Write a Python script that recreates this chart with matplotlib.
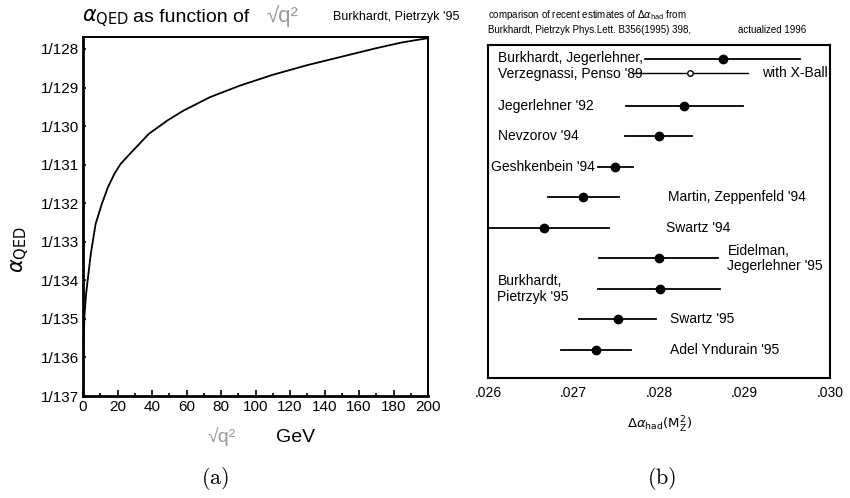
import numpy as np
import matplotlib
matplotlib.use("Agg")
import matplotlib.pyplot as plt

plt.rcParams['font.family'] = ['Liberation Sans', 'DejaVu Sans']

# (a) running coupling
q_gev = [0.0, 0.3, 0.9, 1.8, 2.7, 4.5, 7.3, 10.9, 14.5, 18.2, 21.8, 29.1, 38.2,
         49.1, 58.2, 73.6, 91, 110, 130, 150, 170, 185, 200]
inv_alpha = [137.0, 135.7, 134.88, 134.35, 134.0, 133.32, 132.54, 132.02,
             131.58, 131.24, 130.98, 130.63, 130.2, 129.85, 129.6, 129.25,
             128.95, 128.67, 128.42, 128.2, 127.98, 127.83, 127.72]
inv_alpha_ticks = [128, 129, 130, 131, 132, 133, 134, 135, 136, 137]

# (b) estimates of delta alpha_had(MZ^2)
labels = ["Burkhardt, Jegerlehner,\nVerzegnassi, Penso '89", "with X-Ball",
          "Jegerlehner '92", "Nevzorov '94", "Geshkenbein '94",
          "Martin, Zeppenfeld '94", "Swartz '94", "Eidelman,\nJegerlehner '95",
          "Burkhardt,\nPietrzyk '95", "Swartz '95", "Adel Yndurain '95"]
values = [0.02875, 0.02836, 0.02829, 0.02800, 0.02749, 0.02711, 0.02666,
          0.02800, 0.02801, 0.02752, 0.02726]
err_lo = [0.00091, 0.00068, 0.00068, 0.00040, 0.00020, 0.00041, 0.00075,
          0.00070, 0.00072, 0.00046, 0.00041]
err_hi = [0.00090, 0.00068, 0.00069, 0.00039, 0.00021, 0.00042, 0.00075,
          0.00069, 0.00070, 0.00045, 0.00041]
open_marker = [False, True, False, False, False, False, False, False, False,
               False, False]
xticks_b = [0.026, 0.027, 0.028, 0.029, 0.030]

W, H = 850, 498
fig = plt.figure(figsize=(W / 100, H / 100), dpi=100)


def fx(px):
    return px / W


def fy(py):
    return 1 - py / H


# ---- panel (a)
ax1 = fig.add_axes([fx(83), fy(396), fx(428) - fx(83), fy(37) - fy(396)])
ax1.plot(q_gev, inv_alpha, color='black', lw=1.3)
ax1.set_xlim(0, 200)
ax1.set_ylim(137, 127.69)
ax1.set_yticks(inv_alpha_ticks)
ax1.set_yticklabels([f"1/{v}" for v in inv_alpha_ticks], fontsize=11)
ax1.set_xticks(np.arange(0, 201, 20))
ax1.set_xticks(np.arange(10, 200, 20), minor=True)
ax1.tick_params(axis='x', which='major', direction='in', length=4, width=1.2,
                labelsize=11, pad=3)
ax1.tick_params(axis='x', which='minor', direction='in', length=2, width=1.2)
ax1.tick_params(axis='y', direction='in', length=2.5, width=1.2, pad=3)
for side in ['left', 'bottom']:
    ax1.spines[side].set_linewidth(2)
for side in ['top', 'right']:
    ax1.spines[side].set_linewidth(1.4)

fig.text(fx(82), fy(18), r"$\alpha_{\rm QED}$", fontsize=15, va='center')
fig.text(fx(133), fy(17), "as function of", fontsize=14, va='center')
fig.text(fx(266), fy(16), "√q²", fontsize=16, va='center', color='#9a9a9a')
fig.text(fx(333), fy(17), "Burkhardt, Pietrzyk '95", fontsize=9, va='center')
fig.text(fx(20), fy(250), r"$\alpha_{\rm QED}$", fontsize=15, rotation=90,
         ha='center', va='center')
fig.text(fx(222), fy(437), "√q²", fontsize=14, ha='center', va='center',
         color='#9a9a9a')
fig.text(fx(296), fy(437), "GeV", fontsize=14, ha='center', va='center')
fig.text(fx(215), fy(478), r"$(\mathrm{a})$", fontsize=16, ha='center',
         va='center', math_fontfamily='cm')

# ---- panel (b)
ax2 = fig.add_axes([fx(488), fy(378), fx(830) - fx(488), fy(45) - fy(378)])
rows = np.arange(len(values), dtype=float)
rows[1] = 0.46
rows[2:] -= 0.46
label_x = [0.02612, 0.02921, 0.02612, 0.02612, 0.02604, 0.02811, 0.02808,
           0.02880, 0.02611, 0.02813, 0.02813]

for i in range(len(values)):
    ax2.plot([values[i] - err_lo[i], values[i] + err_hi[i]], [rows[i], rows[i]],
             color='black', lw=1.3 if not open_marker[i] else 1.0)
    if open_marker[i]:
        ax2.plot(values[i], rows[i], 'o', ms=4, mfc='white', mec='black', mew=1)
    else:
        ax2.plot(values[i], rows[i], 'o', ms=6, color='black')
    ty = rows[i]
    if i == 0:
        ty = (rows[0] + rows[1]) / 2
    ax2.text(label_x[i], ty, labels[i], fontsize=10, ha='left', va='center',
             linespacing=1.15)

ax2.set_xlim(0.026, 0.030)
ax2.set_ylim(rows[-1] + 0.92, -0.46)
ax2.set_yticks([])
ax2.set_xticks(xticks_b)
ax2.set_xticklabels([f"{v:.3f}"[1:] for v in xticks_b], fontsize=10)
ax2.tick_params(axis='x', length=0, pad=6)
for side in ax2.spines:
    ax2.spines[side].set_linewidth(1.5)

fig.text(fx(488), fy(15), r"comparison of recent estimates of $\Delta\alpha_{\rm had}$ from",
         fontsize=7, va='center')
fig.text(fx(488), fy(30), "Burkhardt, Pietrzyk Phys.Lett. B356(1995) 398,",
         fontsize=7, va='center')
fig.text(fx(738), fy(30), "actualized 1996", fontsize=7, va='center')
fig.text(fx(660), fy(425), r"$\Delta\alpha_{\rm had}(\rm M_Z^2)$", fontsize=9.5,
         ha='center', va='center')
fig.text(fx(662), fy(478), r"$(\mathrm{b})$", fontsize=16, ha='center',
         va='center', math_fontfamily='cm')

fig.savefig("out.png", dpi=100)
